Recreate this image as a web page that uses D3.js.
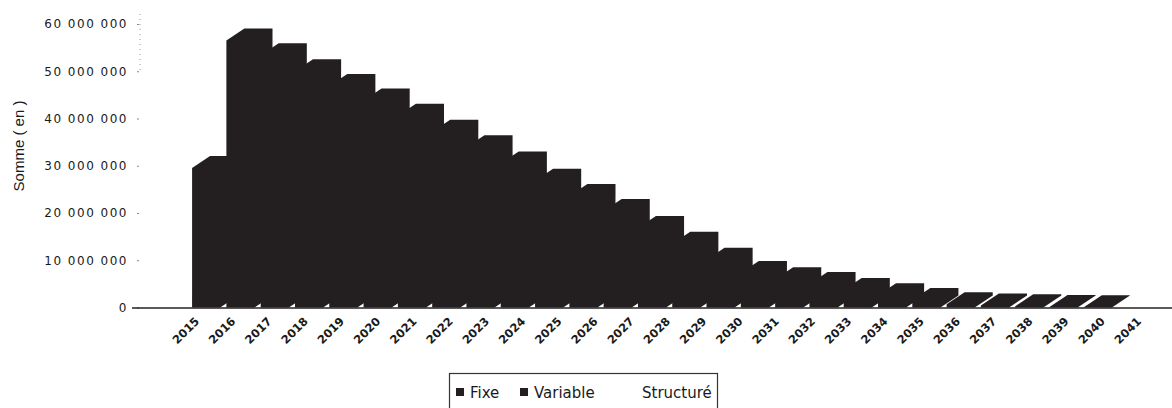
<!DOCTYPE html>
<html>
<head>
<meta charset="utf-8">
<script src="https://cdn.jsdelivr.net/npm/d3@7"></script>
<style>
  body { margin: 0; background: #fff; }
  svg { display: block; }
</style>
</head>
<body>
<script>
// years on the category axis
const years = ["2015", "2016", "2017", "2018", "2019", "2020", "2021", "2022", "2023",
  "2024", "2025", "2026", "2027", "2028", "2029", "2030", "2031", "2032", "2033",
  "2034", "2035", "2036", "2037", "2038", "2039", "2040", "2041"];

// amounts per year (euros)
const fixe = [29.5e6, 56.5e6, 53.4e6, 50.0e6, 46.9e6, 43.8e6, 40.6e6, 37.2e6, 33.9e6,
  30.5e6, 26.8e6, 23.6e6, 20.4e6, 16.8e6, 13.5e6, 10.1e6, 7.3e6, 6.0e6, 5.0e6,
  3.7e6, 2.6e6, 1.6e6, 0.7e6, 0.4e6, 0.25e6, 0.1e6, 0.05e6];

const yTicks = [0, 10e6, 20e6, 30e6, 40e6, 50e6, 60e6];
const legendNames = ["Fixe", "Variable", "Structuré"];

const width = 1172, height = 408;
const ink = "#231f20";
const depthX = 18, depthY = 12;

const fr = d3.formatLocale({ decimal: ",", thousands: " ", grouping: [3], currency: ["", " €"] });
const fmt = fr.format(",d");

const svg = d3.select("body").append("svg")
  .attr("width", width)
  .attr("height", height);

const x = d3.scaleBand()
  .domain(years)
  .range([189, 1115])
  .paddingInner(0.18)
  .paddingOuter(0.09);

const xLabel = d3.scalePoint()
  .domain(years)
  .range([186, 1128]);

const y = d3.scaleLinear()
  .domain([0, 60e6])
  .range([307.5, 24]);

// faint dotted axis at the top
svg.append("line")
  .attr("x1", 140).attr("x2", 140)
  .attr("y1", y(60e6) - 10).attr("y2", y(50e6) + 2)
  .attr("stroke", "#999")
  .attr("stroke-width", 1)
  .attr("stroke-dasharray", "1,4");

// y axis
const yAxis = svg.append("g")
  .attr("transform", "translate(139,0)")
  .call(d3.axisLeft(y).tickValues(yTicks).tickFormat(fmt).tickSize(2).tickPadding(9));
yAxis.select(".domain").remove();
yAxis.selectAll(".tick line").attr("stroke", "#888");
yAxis.selectAll("text")
  .style("font-family", "'DejaVu Sans', sans-serif")
  .style("font-size", "12px")
  .style("letter-spacing", "1.5px")
  .attr("fill", "#1a1a1a");

svg.append("text")
  .attr("transform", `translate(24,${146}) rotate(-90)`)
  .attr("text-anchor", "middle")
  .style("font-family", "'Liberation Sans', Arial, sans-serif")
  .style("font-size", "15px")
  .attr("fill", "#1a1a1a")
  .text("Somme ( en   )");

// 3D columns
const bars = svg.append("g").selectAll("g")
  .data(years.map((yr, i) => ({ yr, v: fixe[i] })))
  .join("g");

bars.append("path")
  .attr("fill", ink)
  .attr("d", d => {
    const x0 = x(d.yr), x1 = x0 + x.bandwidth();
    const b = y(0), t = y(d.v);
    return `M${x0},${b}L${x0},${t}L${x0 + depthX},${t - depthY}L${x1 + depthX},${t - depthY}` +
      `L${x1 + depthX},${b - depthY}L${x1},${b}Z`;
  });

// baseline
svg.append("line")
  .attr("x1", 132).attr("x2", width)
  .attr("y1", 308).attr("y2", 308)
  .attr("stroke", "#222")
  .attr("stroke-width", 1.5);

// year labels
svg.append("g").selectAll("text")
  .data(years)
  .join("text")
  .attr("transform", d => `translate(${xLabel(d) + 14},322) rotate(-45)`)
  .attr("text-anchor", "end")
  .style("font-family", "'DejaVu Sans', sans-serif")
  .style("font-size", "11.5px")
  .style("font-weight", "bold")
  .attr("fill", "#1a1a1a")
  .text(d => d);

// legend
const legend = svg.append("g");
legend.append("rect")
  .attr("x", 449.5).attr("y", 373.5)
  .attr("width", 268).attr("height", 50)
  .attr("fill", "none")
  .attr("stroke", "#333")
  .attr("stroke-width", 1.2);

const legendX = [456, 520, 628];
const item = legend.selectAll("g.item")
  .data(legendNames)
  .join("g")
  .attr("class", "item")
  .attr("transform", (d, i) => `translate(${legendX[i]},0)`);

item.append("rect")
  .attr("x", 0).attr("y", 388)
  .attr("width", 8).attr("height", 8)
  .attr("fill", (d, i) => i < 2 ? ink : "none");

item.append("text")
  .attr("x", 14)
  .attr("y", 398)
  .style("font-family", "'DejaVu Sans', sans-serif")
  .style("font-size", "15px")
  .attr("fill", "#1a1a1a")
  .text(d => d);
</script>
</body>
</html>
